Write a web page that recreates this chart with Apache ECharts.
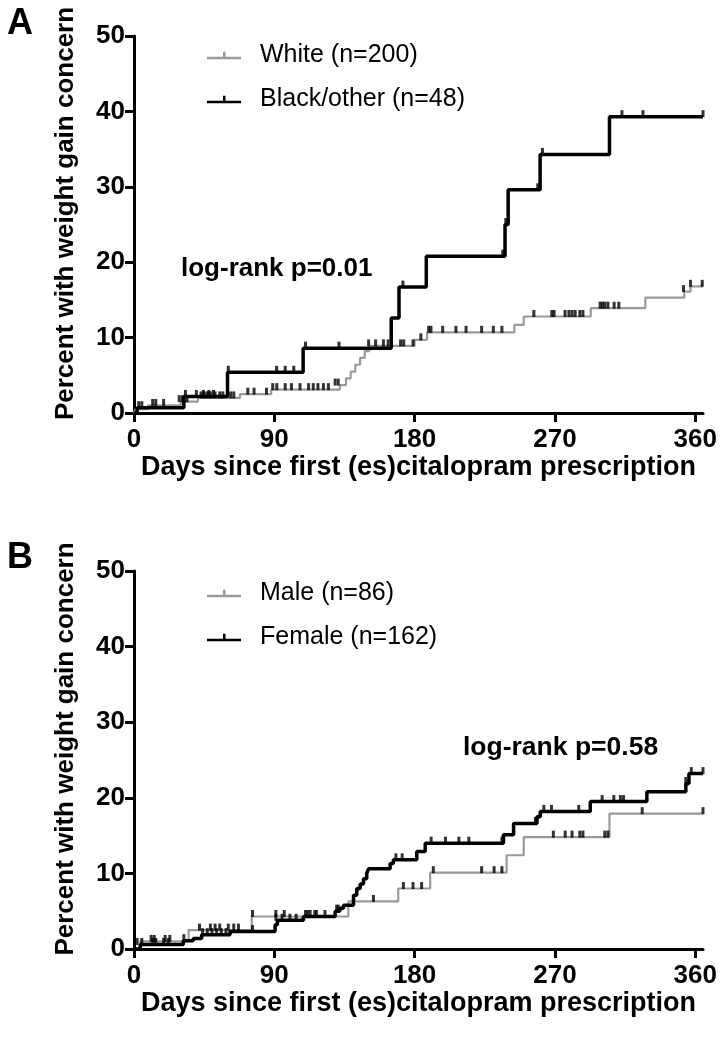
<!DOCTYPE html>
<html>
<head>
<meta charset="utf-8">
<script src="https://cdn.jsdelivr.net/npm/echarts@6/dist/echarts.min.js"></script>
<style>
html,body{margin:0;padding:0;background:#fff;}
#chart{width:720px;height:1041px;}
</style>
</head>
<body>
<div id="chart"></div>
<script>
// ---------- DATA ----------
const xTicks = [0, 90, 180, 270, 360];
const yTicks = [0, 10, 20, 30, 40, 50];

// Panel A: cumulative % with weight gain concern, step points [day, percent]
const whiteSteps = [[0,0],[1,0.5],[9,1.0],[30,1.5],[41,2.0],[68,2.5],[88,3.1],[132,3.7],[136,4.6],[139,5.5],[142,6.4],[145,7.3],[148,8.2],[151,8.9],[180,9.7],[188,10.7],[244,11.7],[250,12.8],[293,13.9],[328,15.3],[353,16.1],[357,16.8],[365,16.8]];
const whiteCensor = [[12,1.0],[14,1.0],[19,1.0],[29,1.5],[31,1.5],[34,1.5],[43,2.0],[45,2.0],[47,2.0],[49,2.0],[52,2.0],[55,2.0],[57,2.0],[62,2.0],[64,2.0],[73,2.5],[77,2.5],[85,2.5],[89,3.1],[91.6,3.1],[97,3.1],[101,3.1],[106.5,3.1],[112,3.1],[115,3.1],[118,3.1],[121.5,3.1],[124.7,3.1],[129,3.7],[131,3.7],[150.5,8.9],[155,8.9],[160,8.9],[163,8.9],[171,8.9],[173,8.9],[179,8.9],[184,9.7],[189,10.7],[190.5,10.7],[198,10.7],[206.5,10.7],[213,10.7],[223,10.7],[230.5,10.7],[236,10.7],[256.5,12.8],[268,12.8],[269.5,12.8],[276.5,12.8],[279,12.8],[281,12.8],[283,12.8],[286,12.8],[288,12.8],[299,13.9],[300.5,13.9],[302,13.9],[304,13.9],[308,13.9],[311,13.9],[352.5,16.1],[357,16.8],[364.5,16.8]];
const blackSteps = [[0,0],[2,0.7],[32,2.2],[60,5.4],[108.5,8.6],[165,12.6],[170,16.7],[187.5,20.8],[238,25.0],[240,29.6],[260.5,34.3],[305,39.3],[365,39.3]];
const blackCensor = [[3,0.7],[5,0.7],[33,2.2],[40,2.2],[44.5,2.2],[48,2.2],[51,2.2],[60.5,5.4],[91.5,5.4],[97,5.4],[102.5,5.4],[110,8.6],[131.5,8.6],[172.5,16.7],[236.5,20.8],[238.5,25.0],[259,29.6],[262,34.3],[313,39.3],[326.5,39.3],[365,39.3]];

// Panel B
const maleSteps = [[0,0],[4,1.0],[35,2.5],[75.5,4.3],[137.5,6.3],[169.5,8.0],[190,10.1],[239,12.4],[250,14.8],[305,17.9],[365,17.9]];
const maleCensor = [[11,1.0],[13,1.0],[20,1.0],[23,1.0],[42,2.5],[49,2.5],[52,2.5],[55,2.5],[60.5,2.5],[64,2.5],[67,2.5],[76,4.3],[91,4.3],[96.4,4.3],[111.4,4.3],[117,4.3],[122.5,4.3],[153.6,6.3],[172.8,8.0],[179,8.0],[184.5,8.0],[192,10.1],[223,10.1],[231,10.1],[236,10.1],[269,14.8],[276.6,14.8],[281,14.8],[286,14.8],[288,14.8],[302,14.8],[304,14.8],[326,17.9],[365,17.9]];
const femaleSteps = [[0,0],[4,0.6],[31.6,1.1],[38,1.4],[43.4,1.9],[61.6,2.3],[90.5,3.2],[92,3.8],[108.7,4.3],[129,5.0],[132,5.4],[134.4,5.8],[140.8,7.1],[142.9,8.0],[145.1,8.6],[147.2,9.3],[149.3,10.0],[150.4,10.6],[164.3,11.3],[166.4,11.8],[181.4,12.9],[186.8,14.0],[237,15.1],[243.5,16.6],[258.5,17.5],[260.6,18.2],[292.7,19.5],[329,20.8],[354,21.9],[356,23.2],[365,23.2]];
const femaleCensor = [[2,0.6],[5,0.6],[12,0.6],[14,0.6],[19,0.6],[22,0.6],[32,1.1],[44,1.9],[47,1.9],[50,1.9],[53,1.9],[56,1.9],[59,1.9],[76,2.3],[91,3.8],[95,3.8],[100,3.8],[104,3.8],[110,4.3],[113,4.3],[116,4.3],[130,5.0],[131,5.0],[168,11.8],[172,11.8],[190.6,14.0],[199.8,14.0],[208.4,14.0],[214.8,14.0],[236,14.0],[257.5,16.6],[262.9,18.2],[267.8,18.2],[285.3,18.2],[300.3,19.5],[307.8,19.5],[312,19.5],[314,19.5],[354,21.9],[357.5,23.2],[365,23.2]];

const seriesNames = ['White (n=200)', 'Black/other (n=48)', 'Male (n=86)', 'Female (n=162)'];
const xTitle = 'Days since first (es)citalopram prescription';
const yTitle = 'Percent with weight gain concern';
const pTextA = 'log-rank p=0.01';
const pTextB = 'log-rank p=0.58';

// ---------- CHART ----------
const FONT = '"Liberation Sans", Arial, sans-serif';
const GRAY = '#9a9a9a', BLACK = '#000';
const chart = echarts.init(document.getElementById('chart'), null, {renderer: 'canvas'});

function xAxisFor(gi) {
  return {
    gridIndex: gi, type: 'value', min: 0, max: 365,
    name: xTitle, nameLocation: 'middle', nameGap: 41,
    nameTextStyle: {fontFamily: FONT, fontWeight: 'bold', fontSize: 27, color: '#000'},
    axisLine: {show: true, lineStyle: {color: '#000', width: 3}},
    axisTick: {show: true, length: 9, lineStyle: {color: '#000', width: 3}, customValues: xTicks},
    axisLabel: {fontFamily: FONT, fontWeight: 'bold', fontSize: 26, color: '#000', margin: 14, customValues: xTicks},
    splitLine: {show: false}
  };
}
function yAxisFor(gi) {
  return {
    gridIndex: gi, type: 'value', min: 0, max: 50, interval: 10,
    name: yTitle, nameLocation: 'middle', nameGap: 55, nameRotate: 90,
    nameTextStyle: {fontFamily: FONT, fontWeight: 'bold', fontSize: 26, color: '#000', padding: [0, 0, 0, 22]},
    axisLine: {show: true, lineStyle: {color: '#000', width: 3}},
    axisTick: {show: true, length: 9, lineStyle: {color: '#000', width: 3}},
    axisLabel: {fontFamily: FONT, fontWeight: 'bold', fontSize: 26, color: '#000', margin: 9, customValues: yTicks},
    splitLine: {show: false}
  };
}
function stepSeries(name, data, gi, color, width, z) {
  return {
    name: name, type: 'line', step: 'end', data: data,
    xAxisIndex: gi, yAxisIndex: gi, showSymbol: false, symbol: 'none',
    lineStyle: {color: color, width: width}, itemStyle: {color: color}, z: z
  };
}
function censorSeries(name, data, gi) {
  return {
    name: name, type: 'scatter', data: data, xAxisIndex: gi, yAxisIndex: gi,
    symbol: 'rect', symbolSize: [3, 7], symbolOffset: [0, -3],
    itemStyle: {color: '#000'}, z: 5, silent: true
  };
}
const legendIcon = 'path://M0,7 L34,7 L34,9.5 L0,9.5 Z M16,2 L18.5,2 L18.5,8 L16,8 Z';
function legendFor(top, names) {
  return {
    orient: 'vertical', left: 202, top: top, itemGap: 19,
    itemWidth: 34, itemHeight: 10,
    data: names.map(n => ({name: n, icon: legendIcon})),
    textStyle: {fontFamily: FONT, fontSize: 25, color: '#000', padding: [0, 0, 0, 14]},
    selectedMode: false
  };
}

const option = {
  animation: false,
  backgroundColor: '#fff',
  grid: [
    {left: 134, top: 36, width: 569, height: 377},
    {left: 134, top: 571, width: 569, height: 378}
  ],
  xAxis: [xAxisFor(0), xAxisFor(1)],
  yAxis: [yAxisFor(0), yAxisFor(1)],
  legend: [legendFor(38, [seriesNames[0], seriesNames[1]]), legendFor(576, [seriesNames[2], seriesNames[3]])],
  title: [
    {text: 'A', left: 2, top: 1, textStyle: {fontFamily: FONT, fontWeight: 'bold', fontSize: 36, color: '#000'}},
    {text: 'B', left: 2, top: 535, textStyle: {fontFamily: FONT, fontWeight: 'bold', fontSize: 36, color: '#000'}},
    {text: pTextA, left: 176, top: 251, textStyle: {fontFamily: FONT, fontWeight: 'bold', fontSize: 26, color: '#000'}},
    {text: pTextB, left: 458, top: 729, textStyle: {fontFamily: FONT, fontWeight: 'bold', fontSize: 26.5, color: '#000'}}
  ],
  series: [
    stepSeries(seriesNames[0], whiteSteps, 0, GRAY, 2.2, 2),
    stepSeries(seriesNames[1], blackSteps, 0, BLACK, 3.5, 3),
    censorSeries('White censored', whiteCensor, 0),
    censorSeries('Black censored', blackCensor, 0),
    stepSeries(seriesNames[2], maleSteps, 1, GRAY, 2.2, 2),
    stepSeries(seriesNames[3], femaleSteps, 1, BLACK, 3.5, 3),
    censorSeries('Male censored', maleCensor, 1),
    censorSeries('Female censored', femaleCensor, 1)
  ]
};
chart.setOption(option);
</script>
</body>
</html>
